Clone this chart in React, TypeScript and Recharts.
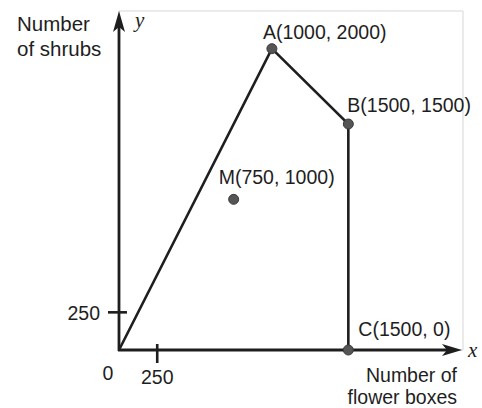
import { ScatterChart, Scatter, XAxis, YAxis, CartesianGrid, ReferenceLine } from "recharts";

const gridTicks = [0, 250, 500, 750, 1000, 1250, 1500, 1750, 2000, 2250];

const outlineX = [0, 1000, 1500, 1500];
const outlineY = [0, 2000, 1500, 0];

const pointNames = ["A", "B", "C", "M"];
const pointX = [1000, 1500, 1500, 750];
const pointY = [2000, 1500, 0, 1000];

const xTickValue = 250;
const yTickValue = 250;

const INK = "#1e1e1e";
const FONT = "'Liberation Sans', Arial, sans-serif";
const SERIF = "'Liberation Serif', 'Times New Roman', serif";

// where each point label sits relative to its dot (px)
const LABEL_OFFSET: Record<string, [number, number]> = {
  A: [-9, -10],
  B: [-1, -12],
  C: [10, -14],
  M: [-15, -15],
};

const outline = outlineX.map((x, i) => ({ x, y: outlineY[i] }));
const points = pointNames.map((name, i) => ({
  name,
  x: pointX[i],
  y: pointY[i],
  label: `${name}(${pointX[i]}, ${pointY[i]})`,
}));

const PointShape = (props: any) => {
  const { cx, cy, payload } = props;
  const [dx, dy] = LABEL_OFFSET[payload.name] || [0, 0];
  return (
    <g>
      <circle cx={cx} cy={cy} r={5} fill="#555" stroke="#3a3a3a" strokeWidth={1} />
      <text x={cx + dx} y={cy + dy} fontFamily={FONT} fontSize={19.5} fill={INK}>
        {payload.label}
      </text>
    </g>
  );
};

const YAxisLine = (props: any) => {
  const { x1, y1, y2 } = props;
  const top = Math.min(y1, y2);
  const bottom = Math.max(y1, y2);
  return (
    <g>
      <line x1={x1} y1={bottom + 1} x2={x1} y2={top + 14} stroke={INK} strokeWidth={2.8} />
      <polygon
        points={`${x1},${top} ${x1 - 6},${top + 21} ${x1},${top + 16} ${x1 + 6},${top + 21}`}
        fill={INK}
      />
      <text x={x1 + 16} y={top + 16} fontFamily={SERIF} fontStyle="italic" fontSize={21} fill={INK}>
        y
      </text>
      <text fontFamily={FONT} fontSize={20.5} fill={INK}>
        <tspan x={x1 - 102} y={top + 20}>Number</tspan>
        <tspan x={x1 - 102} y={top + 45}>of shrubs</tspan>
      </text>
    </g>
  );
};

const XAxisLine = (props: any) => {
  const { x1, x2, y1 } = props;
  const left = Math.min(x1, x2);
  const right = Math.max(x1, x2);
  return (
    <g>
      <line x1={left - 1} y1={y1} x2={right - 14} y2={y1} stroke={INK} strokeWidth={2.8} />
      <polygon
        points={`${right - 1},${y1} ${right - 21},${y1 - 6} ${right - 16},${y1} ${right - 21},${y1 + 6}`}
        fill={INK}
      />
      <text x={right + 5} y={y1 + 7} fontFamily={SERIF} fontStyle="italic" fontSize={21} fill={INK}>
        x
      </text>
      <text fontFamily={FONT} fontSize={19.5} fill={INK} textAnchor="end">
        <tspan x={right - 6} y={y1 + 32}>Number of</tspan>
        <tspan x={right - 6} y={y1 + 54}>flower boxes</tspan>
      </text>
      <text x={left - 11} y={y1 + 30} fontFamily={FONT} fontSize={19.5} fill={INK} textAnchor="middle">
        0
      </text>
    </g>
  );
};

const XTick = (props: any) => {
  const { x1, y1, y2 } = props;
  const bottom = Math.max(y1, y2);
  return (
    <g>
      <line x1={x1} y1={bottom - 6} x2={x1} y2={bottom + 13} stroke={INK} strokeWidth={2.6} />
      <text x={x1} y={bottom + 34} fontFamily={FONT} fontSize={19.5} fill={INK} textAnchor="middle">
        {xTickValue}
      </text>
    </g>
  );
};

const YTick = (props: any) => {
  const { x1, x2, y1 } = props;
  const left = Math.min(x1, x2);
  return (
    <g>
      <line x1={left - 11} y1={y1} x2={left + 8} y2={y1} stroke={INK} strokeWidth={2.6} />
      <text x={left - 19} y={y1 + 8} fontFamily={FONT} fontSize={19.5} fill={INK} textAnchor="end">
        {yTickValue}
      </text>
    </g>
  );
};

export default function App() {
  return (
    <div style={{ position: "absolute", left: 0, top: 0, width: 482, height: 408, background: "#fff" }}>
      <ScatterChart width={482} height={408} margin={{ top: 11, right: 19, bottom: 58, left: 119 }}>
        <XAxis
          type="number"
          dataKey="x"
          domain={[0, 2250]}
          ticks={gridTicks}
          height={0}
          axisLine={false}
          tickLine={false}
          tick={false}
        />
        <YAxis
          type="number"
          dataKey="y"
          domain={[0, 2250]}
          ticks={gridTicks}
          width={0}
          axisLine={false}
          tickLine={false}
          tick={false}
        />
        <CartesianGrid stroke="#e4e4e4" strokeWidth={1.5} />
        <ReferenceLine x={0} shape={YAxisLine} />
        <ReferenceLine y={0} shape={XAxisLine} />
        <ReferenceLine x={xTickValue} shape={XTick} />
        <ReferenceLine y={yTickValue} shape={YTick} />
        <Scatter
          data={outline}
          line={{ stroke: INK, strokeWidth: 2.6 }}
          shape={() => <g />}
          isAnimationActive={false}
        />
        <Scatter data={points} shape={PointShape} isAnimationActive={false} />
      </ScatterChart>
    </div>
  );
}
